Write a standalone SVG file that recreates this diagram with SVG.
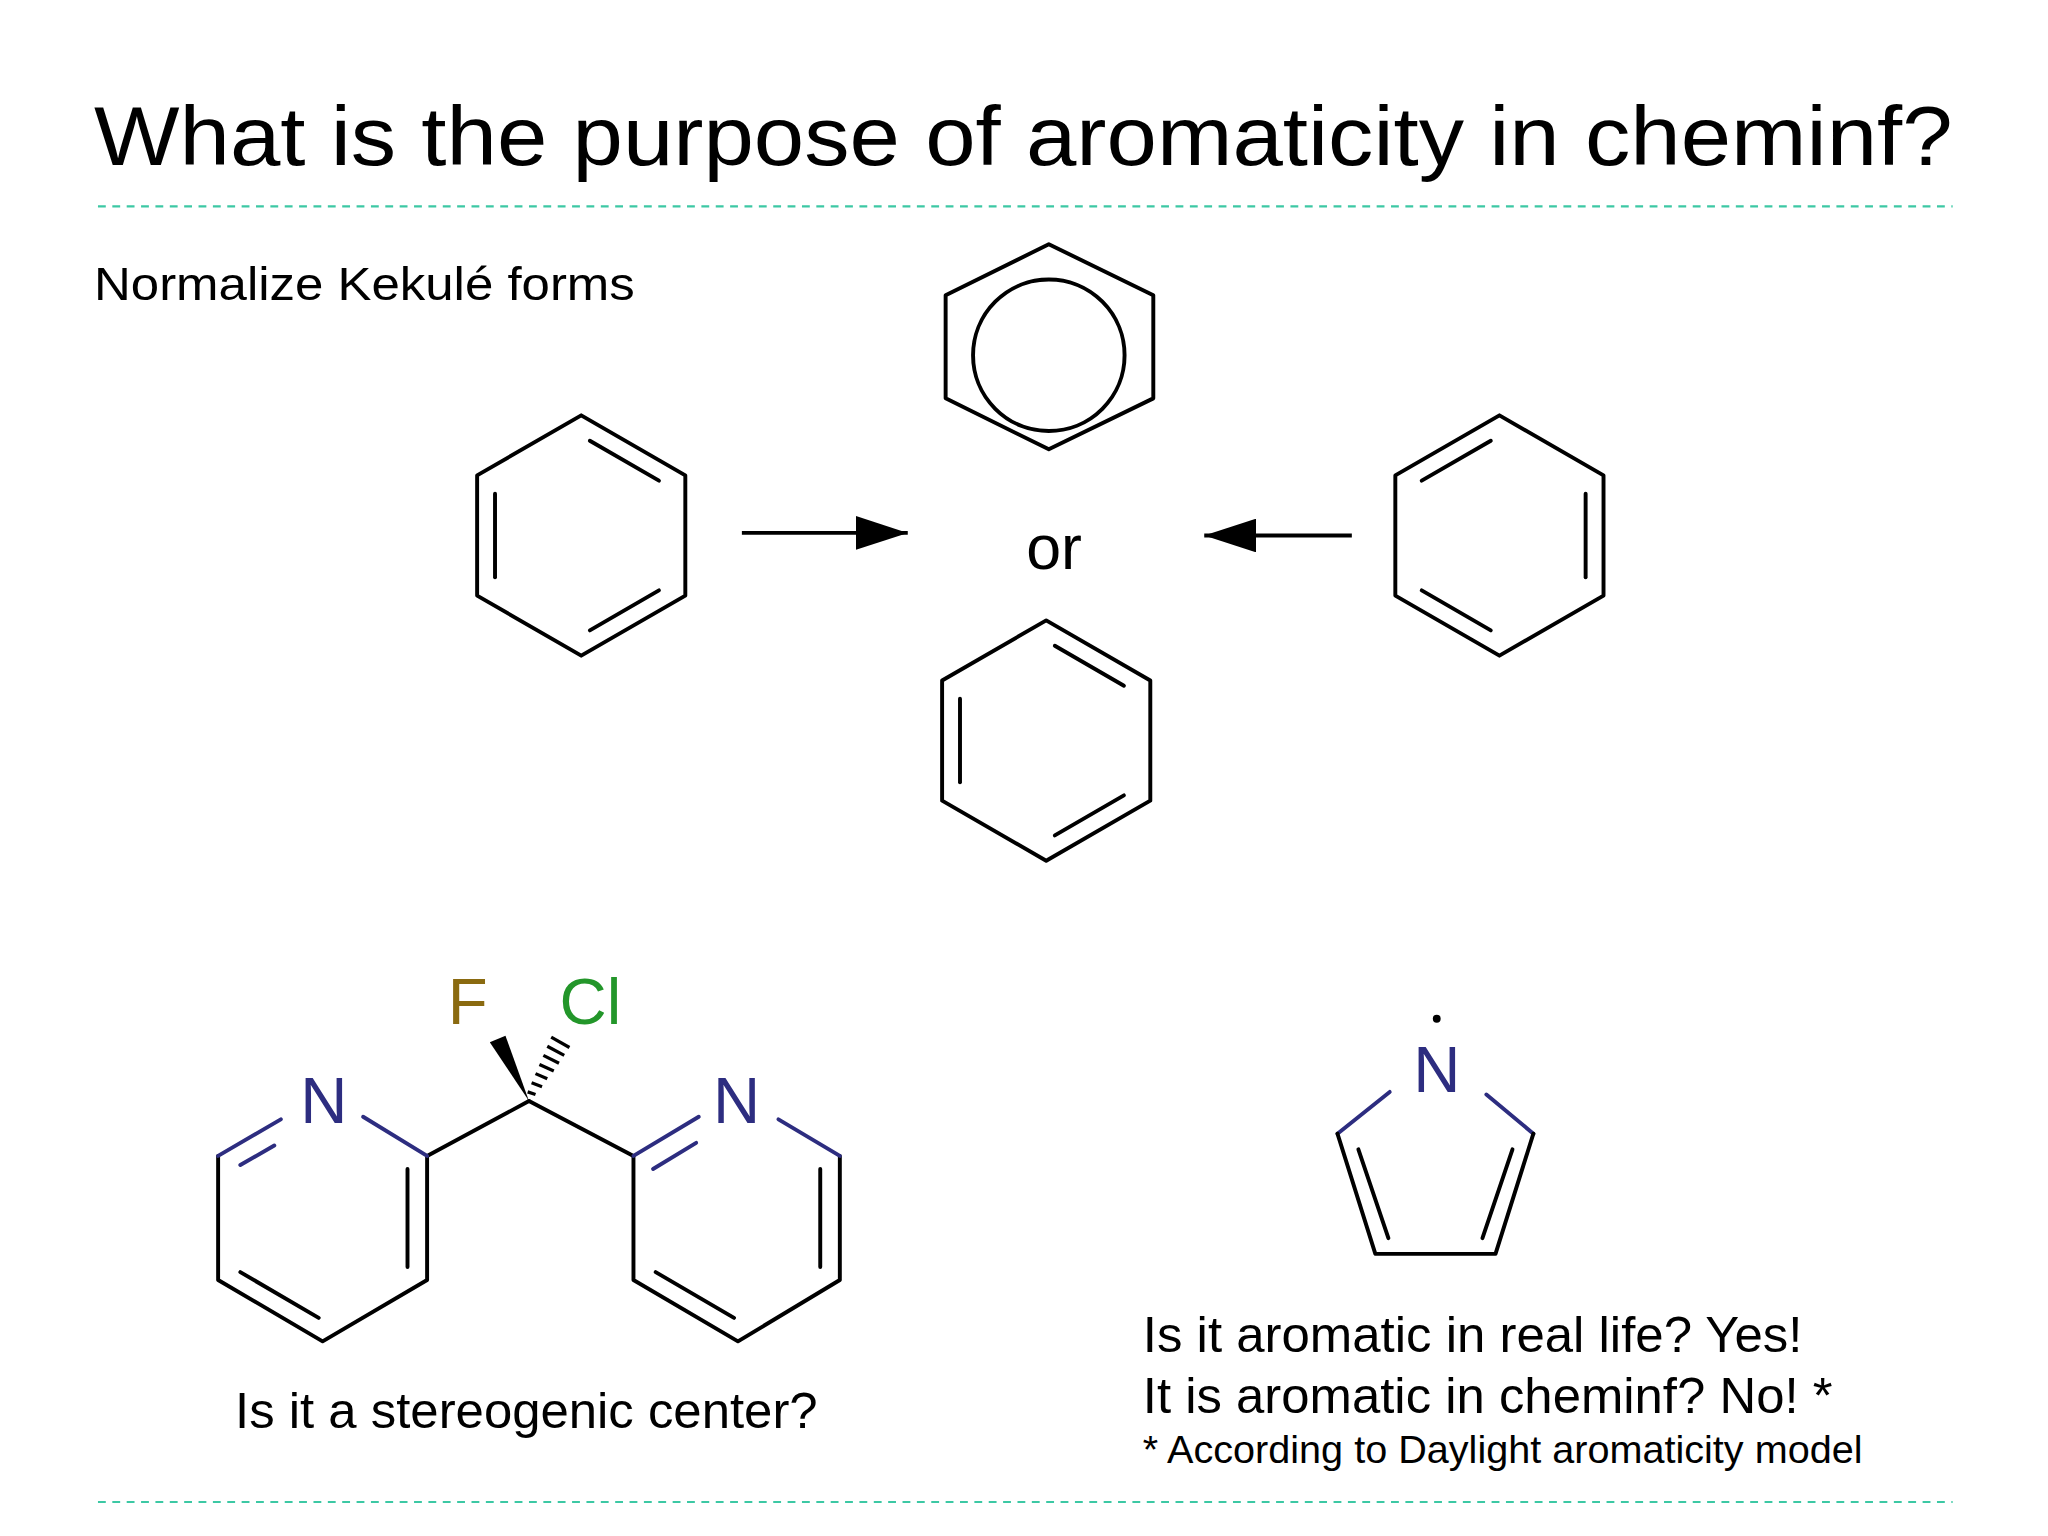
<svg xmlns="http://www.w3.org/2000/svg" width="2048" height="1536" viewBox="0 0 2048 1536">
<style>
.t{font-family:"Liberation Sans",Arial,sans-serif;fill:#000}
.b{stroke:#000;stroke-width:3;fill:none;stroke-linecap:round;stroke-linejoin:round}
.n{stroke:#2d2d80;stroke-width:3;fill:none;stroke-linecap:round}
.d{stroke:#3cc8a4;stroke-width:1.6;stroke-dasharray:6 5}
</style>
<defs>
<g id="kek">
<polygon class="b" points="0,-92 79.7,-46 79.7,46 0,92 -79.7,46 -79.7,-46"/>
<line class="b" x1="-66" y1="-32" x2="-66" y2="32"/>
<line class="b" x1="6.6" y1="-72.6" x2="59.5" y2="-42"/>
<line class="b" x1="59.5" y1="42" x2="6.6" y2="72.6"/>
</g>
<marker id="ah" viewBox="0 0 40 26" refX="40" refY="13" markerWidth="40" markerHeight="26" orient="auto" markerUnits="userSpaceOnUse"><path d="M0,0 L40,13 L0,26 z" fill="#000"/></marker>
</defs>
<rect width="2048" height="1536" fill="#fff"/>
<g transform="scale(1.30612)">
<g id="title"><text class="t" x="72" y="126" font-size="64" textLength="1423" lengthAdjust="spacingAndGlyphs">What is the purpose of aromaticity in cheminf?</text></g>
<line class="d" x1="75" y1="158" x2="1495" y2="158"/>
<line class="d" x1="75" y1="1150" x2="1495" y2="1150"/>
<g id="sub"><text class="t" x="72" y="230" font-size="36" textLength="414" lengthAdjust="spacingAndGlyphs">Normalize Kekulé forms</text></g>
<g id="benzL"><use href="#kek" transform="translate(445,410)"/></g>
<g id="benzB"><use href="#kek" transform="translate(801,567)"/></g>
<g id="benzR"><use href="#kek" transform="translate(1148,410) scale(-1,1)"/></g>
<g id="arom">
<polygon class="b" points="803,187 883,226 883,305 803,344 724,305 724,226"/>
<circle class="b" cx="803" cy="272" r="58"/>
</g>
<g id="or"><text class="t" x="807" y="436" font-size="48" text-anchor="middle">or</text></g>
<g id="connectors">
<line x1="568" y1="408" x2="695" y2="408" stroke="#000" stroke-width="3" marker-end="url(#ah)"/>
<line x1="1035" y1="410" x2="922" y2="410" stroke="#000" stroke-width="3" marker-end="url(#ah)"/>
</g>
<g id="mol1">
<line class="b" x1="405" y1="843" x2="327" y2="885"/>
<line class="b" x1="405" y1="843" x2="485" y2="885"/>
<polygon points="405,843 375,798 387,793" fill="#000"/>
<g stroke="#000" stroke-width="2.5">
<line x1="404" y1="836" x2="410" y2="838"/>
<line x1="407" y1="829" x2="415" y2="832"/>
<line x1="410" y1="822" x2="419" y2="826"/>
<line x1="413" y1="815" x2="424" y2="820"/>
<line x1="416" y1="808" x2="428" y2="814"/>
<line x1="419" y1="801" x2="432" y2="808"/>
<line x1="422" y1="794" x2="436" y2="802"/>
</g>
<text x="358" y="784" font-size="50" text-anchor="middle" font-family="Liberation Sans,Arial,sans-serif" fill="#8a6a10">F</text>
<text x="452" y="784" font-size="50" text-anchor="middle" font-family="Liberation Sans,Arial,sans-serif" fill="#23962a">Cl</text>
<text x="248" y="860" font-size="50" text-anchor="middle" font-family="Liberation Sans,Arial,sans-serif" fill="#2d2d80">N</text>
<text x="564" y="860" font-size="50" text-anchor="middle" font-family="Liberation Sans,Arial,sans-serif" fill="#2d2d80">N</text>
<polyline class="b" points="327,885 327,980 247,1027 167,980 167,885"/>
<line class="n" x1="167" y1="885" x2="215" y2="857"/>
<line class="n" x1="184" y1="892" x2="210" y2="877"/>
<line class="n" x1="278" y1="855" x2="327" y2="885"/>
<line class="b" x1="312" y1="895" x2="312" y2="970"/>
<line class="b" x1="184" y1="974" x2="244" y2="1009"/>
<polyline class="b" points="485,885 485,980 565,1027 643,980 643,885"/>
<line class="n" x1="485" y1="885" x2="535" y2="855"/>
<line class="n" x1="500" y1="895" x2="533" y2="875"/>
<line class="n" x1="596" y1="857" x2="643" y2="885"/>
<line class="b" x1="628" y1="895" x2="628" y2="970"/>
<line class="b" x1="502" y1="974" x2="562" y2="1009"/>
</g>
<g id="mol2">
<circle cx="1100" cy="780" r="3" fill="#000"/>
<text x="1100" y="836" font-size="50" text-anchor="middle" font-family="Liberation Sans,Arial,sans-serif" fill="#2d2d80">N</text>
<line class="n" x1="1064" y1="836" x2="1024" y2="868"/>
<line class="n" x1="1138" y1="838" x2="1174" y2="868"/>
<polyline class="b" points="1024,868 1053,960 1145,960 1174,868"/>
<line class="b" x1="1040" y1="880" x2="1063" y2="948"/>
<line class="b" x1="1158" y1="880" x2="1135" y2="948"/>
</g>
<g id="texts">
<text class="t" x="180" y="1093" font-size="38" textLength="446" lengthAdjust="spacingAndGlyphs">Is it a stereogenic center?</text>
<text class="t" x="875" y="1035" font-size="38" textLength="505" lengthAdjust="spacingAndGlyphs">Is it aromatic in real life? Yes!</text>
<text class="t" x="875" y="1082" font-size="38" textLength="528" lengthAdjust="spacingAndGlyphs">It is aromatic in cheminf? No! *</text>
<text class="t" x="875" y="1120" font-size="30" textLength="551" lengthAdjust="spacingAndGlyphs">* According to Daylight aromaticity model</text>
</g>
</g>
</svg>
